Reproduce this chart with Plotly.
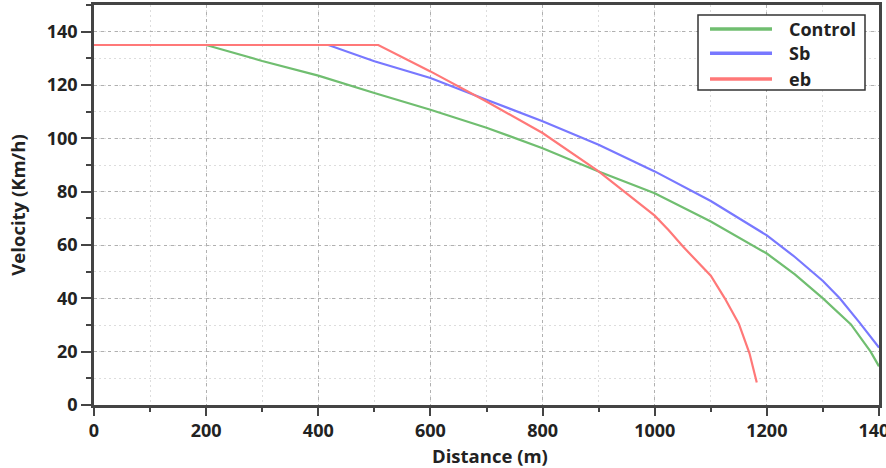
import plotly.graph_objects as go

# Data
control_x = [0, 200, 300, 400, 500, 600, 700, 800, 900, 1000, 1100, 1175, 1200, 1250, 1300, 1350, 1385, 1400]
control_v = [135, 135, 129, 123.5, 117, 110.7, 104, 96.3, 87.6, 79.4, 68.8, 60, 56.8, 49, 40, 30.2, 20, 14.5]

sb_x = [0, 418, 500, 600, 700, 800, 900, 1000, 1100, 1188, 1200, 1250, 1300, 1330, 1365, 1400]
sb_v = [135, 135, 128.9, 122.6, 114.5, 106.4, 97.6, 87.6, 76.5, 65.1, 63.6, 55.5, 46.5, 40, 31, 21.5]

eb_x = [0, 507, 600, 700, 800, 900, 1000, 1025, 1050, 1075, 1100, 1125, 1150, 1169, 1182]
eb_v = [135, 135, 125.1, 113.8, 102, 87.6, 71, 65.5, 59.5, 54, 48.5, 40, 30.5, 19.4, 8.4]

series_names = ["Control", "Sb", "eb"]
colors = ["rgb(112,190,112)", "rgb(120,120,255)", "rgb(255,120,120)"]

x_ticks = [0, 200, 400, 600, 800, 1000, 1200, 1400]
y_ticks = [0, 20, 40, 60, 80, 100, 120, 140]

x_title = "Distance (m)"
y_title = "Velocity (Km/h)"

FONT = "Open Sans"
TXT = "#222222"

W, H = 886, 468
ML, MR, MT, MB = 94, 7, 5, 63
PW, PH = W - ML - MR, H - MT - MB

fig = go.Figure()
for name, xs, ys, c in zip(series_names, [control_x, sb_x, eb_x], [control_v, sb_v, eb_v], colors):
    fig.add_trace(go.Scatter(x=xs, y=ys, mode="lines", name=name,
                             line=dict(color=c, width=2.2), showlegend=False))

axis_common = dict(
    showline=True, linecolor="#444444", linewidth=2.5, mirror=True,
    ticks="outside", tickwidth=2, tickcolor="#444444",
    showgrid=True, gridcolor="#b0b0b0", gridwidth=1, griddash="3px,4px",
    zeroline=False,
    tickfont=dict(family=FONT, size=18, color=TXT, weight="bold"),
    ticklabeloverflow="allow",
)

fig.update_xaxes(
    range=[0, 1400], tickvals=x_ticks, ticklen=8,
    minor=dict(dtick=100, ticks="outside", ticklen=4, tickwidth=2, tickcolor="#444444",
               showgrid=True, gridcolor="#dddddd", griddash="2px,3px", gridwidth=1),
    automargin=False,
    **axis_common,
)
fig.update_yaxes(
    range=[0, 150], tickvals=y_ticks, ticklen=10,
    minor=dict(dtick=10, ticks="outside", ticklen=5, tickwidth=2, tickcolor="#444444",
               showgrid=True, gridcolor="#dddddd", griddash="2px,3px", gridwidth=1),
    title=dict(text=y_title, font=dict(family=FONT, size=18.5, color=TXT, weight="bold"),
               standoff=17),
    automargin=False,
    **axis_common,
)

# Custom legend box (pixel positions converted to paper coordinates)
def px_x(p):
    return (p - ML) / PW

def px_y(p):
    return (H - MB - p) / PH

shapes = [dict(type="rect", xref="paper", yref="paper",
               x0=px_x(698), x1=px_x(865), y0=px_y(90), y1=px_y(15),
               line=dict(color="#333333", width=1.5), fillcolor="white", layer="above")]
annotations = []
legend_rows = [29, 53.3, 79]
for name, c, ry in zip(series_names, colors, legend_rows):
    shapes.append(dict(type="line", xref="paper", yref="paper",
                       x0=px_x(710), x1=px_x(772), y0=px_y(ry), y1=px_y(ry),
                       line=dict(color=c, width=3.5), layer="above"))
    annotations.append(dict(xref="paper", yref="paper", x=px_x(787), y=px_y(ry),
                            xanchor="left", yanchor="middle", showarrow=False, text=name,
                            font=dict(family=FONT, size=18, color=TXT, weight="bold")))

# x-axis title placed near the bottom edge, as in the reference
annotations.append(dict(xref="paper", yref="paper", x=px_x(490), y=px_y(455),
                        xanchor="center", yanchor="middle", showarrow=False, text=x_title,
                        font=dict(family=FONT, size=18.5, color=TXT, weight="bold")))

fig.update_layout(
    width=W, height=H,
    margin=dict(l=ML, r=MR, t=MT, b=MB),
    paper_bgcolor="white", plot_bgcolor="white",
    shapes=shapes, annotations=annotations,
    showlegend=False,
)

fig.write_html("out.html")
